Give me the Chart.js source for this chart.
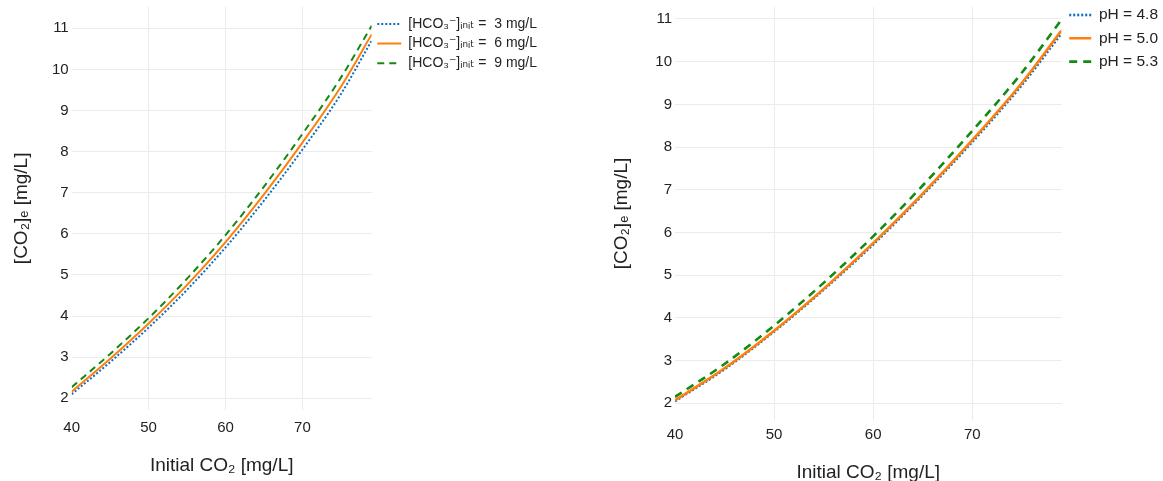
<!DOCTYPE html>
<html>
<head>
<meta charset="utf-8">
<script src="https://cdn.jsdelivr.net/npm/chart.js@4"></script>
<style>
  html, body { margin: 0; padding: 0; background: #fff; overflow: hidden; width: 1163px; height: 481px; }
  .panel { position: absolute; top: 0; }
</style>
</head>
<body>
<div class="panel" style="left:0px; width:547px; height:481px;"><canvas id="chartHco3"></canvas></div>
<div class="panel" style="left:600px; width:568px; height:495px;"><canvas id="chartPh"></canvas></div>
<script>
// x values (initial CO2, mg/L) read at these points
let initialCO2 = [40, 45, 50, 55, 60, 65, 70, 75, 79];

// left panel: different initial bicarbonate
let hco3Labels = ['[HCO₃⁻]ᵢₙᵢₜ =  3 mg/L', '[HCO₃⁻]ᵢₙᵢₜ =  6 mg/L', '[HCO₃⁻]ᵢₙᵢₜ =  9 mg/L'];
let co2eHco3_3 = [2.10, 2.88, 3.72, 4.64, 5.67, 6.81, 8.05, 9.40, 10.70];
let co2eHco3_6 = [2.16, 2.96, 3.82, 4.76, 5.80, 6.96, 8.22, 9.58, 10.85];
let co2eHco3_9 = [2.27, 3.08, 3.95, 4.91, 5.97, 7.15, 8.43, 9.80, 11.06];

// right panel: different pH
let phLabels = ['pH = 4.8', 'pH = 5.0', 'pH = 5.3'];
let co2ePh48 = [2.05, 2.80, 3.68, 4.66, 5.72, 6.88, 8.12, 9.45, 10.66];
let co2ePh50 = [2.07, 2.82, 3.70, 4.68, 5.75, 6.91, 8.16, 9.50, 10.73];
let co2ePh53 = [2.15, 2.92, 3.82, 4.82, 5.91, 7.10, 8.38, 9.74, 10.98];

let xTitle = 'Initial CO₂ [mg/L]';
let yTitle = '[CO₂]ₑ [mg/L]';

let fontFamily = '"Liberation Sans", Arial, "DejaVu Sans", sans-serif';
let textColor = '#222';
let gridColor = '#ebebeb';
let colors = ['#0a6fc2', '#ff7f0e', '#138a13'];

let toPoints = function(ys) {
  return ys.map(function(y, i) { return {x: initialCO2[i], y: y}; });
};

let makeDatasets = function(labels, series, width, dashes) {
  return series.map(function(ys, i) {
    return {
      label: labels[i],
      data: toPoints(ys),
      borderColor: colors[i],
      backgroundColor: colors[i],
      borderWidth: width,
      borderDash: dashes[i],
      pointRadius: 0,
      cubicInterpolationMode: 'monotone',
      order: [3, 1, 2][i] // orange on top, blue underneath
    };
  });
};

// legend with pointStyle 'line' takes the point style, so copy the line dash over
let lineLegendLabels = function(chart) {
  let items = Chart.defaults.plugins.legend.labels.generateLabels(chart);
  items.forEach(function(item) {
    let ds = chart.data.datasets[item.datasetIndex];
    item.lineDash = ds.borderDash;
    item.lineWidth = ds.borderWidth;
    item.strokeStyle = ds.borderColor;
  });
  return items;
};

let drawPanel = function(canvasId, datasets, o) {
  return new Chart(document.getElementById(canvasId), {
    type: 'line',
    data: { datasets: datasets },
    options: {
      responsive: true,
      maintainAspectRatio: false,
      animation: false,
      layout: { padding: { top: o.top, left: 0, right: 0, bottom: 0 } },
      plugins: {
        tooltip: { enabled: false },
        legend: {
          position: 'right',
          align: 'start',
          maxWidth: 300,
          // empty title only used to nudge the legend rows up/down
          title: { display: true, text: '', font: { size: 1, lineHeight: 1 }, padding: { top: o.legendShift, bottom: 0 } },
          labels: {
            usePointStyle: true,
            pointStyle: 'line',
            pointStyleWidth: o.legendLine,
            padding: o.legendPad,
            color: textColor,
            font: { family: fontFamily, size: o.legendFont },
            generateLabels: lineLegendLabels,
            sort: function(a, b) { return a.datasetIndex - b.datasetIndex; }
          }
        }
      },
      scales: {
        x: {
          type: 'linear',
          min: 40,
          max: 79,
          border: { display: false },
          grid: {
            drawTicks: false,
            color: function(ctx) { return ctx.tick && ctx.tick.value === 40 ? 'rgba(0,0,0,0)' : gridColor; }
          },
          ticks: { stepSize: 10, includeBounds: false, padding: o.xTickPad, color: textColor, font: { family: fontFamily, size: 15 } },
          title: { display: true, text: xTitle, color: textColor, font: { family: fontFamily, size: 19 }, padding: { top: 0, bottom: o.xTitlePad } },
          afterFit: function(scale) { scale.height = o.xHeight; }
        },
        y: {
          type: 'linear',
          min: o.yMin,
          max: o.yMax,
          border: { display: false },
          grid: { drawTicks: false, color: gridColor },
          ticks: { stepSize: 1, includeBounds: false, padding: 3, color: textColor, font: { family: fontFamily, size: 15 } },
          title: { display: true, text: yTitle, color: textColor, font: { family: fontFamily, size: 19 }, padding: { top: 10.3, bottom: 0 } },
          afterFit: function(scale) {
            scale.width = o.yWidth;
            // end ticks sit inside the plot, no need for extra room
            scale.paddingTop = 0;
            scale.paddingBottom = 0;
          }
        }
      }
    }
  });
};

drawPanel('chartHco3',
  makeDatasets(hco3Labels, [co2eHco3_3, co2eHco3_6, co2eHco3_9], 2, [[2, 2], [], [7, 5]]),
  { top: 6.7, yMin: 1.715, yMax: 11.525, yWidth: 71.7, xHeight: 71, xTickPad: 9, xTitlePad: 3.6,
    legendFont: 14, legendPad: 5.6, legendLine: 24, legendShift: 3.7 });

drawPanel('chartPh',
  makeDatasets(phLabels, [co2ePh48, co2ePh50, co2ePh53], 2.6, [[2, 2], [], [8, 6]]),
  { top: 7, yMin: 1.609, yMax: 11.28, yWidth: 75, xHeight: 75, xTickPad: 6, xTitlePad: 11.2,
    legendFont: 15.5, legendPad: 7.8, legendLine: 22, legendShift: -8.55 });
</script>
</body>
</html>
